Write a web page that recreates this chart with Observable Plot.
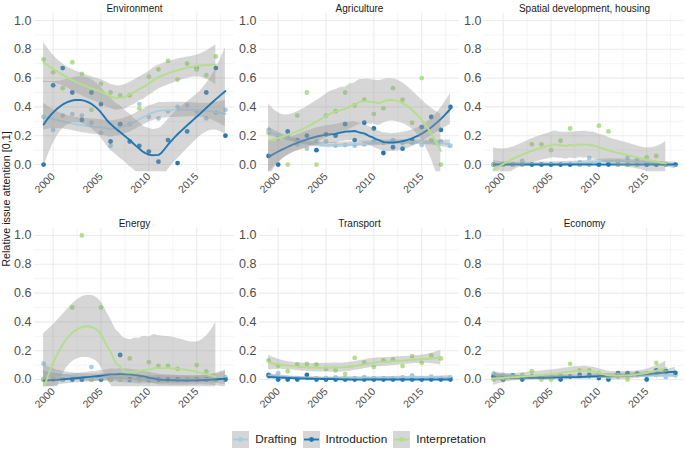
<!DOCTYPE html>
<html><head><meta charset="utf-8">
<script src="https://cdn.jsdelivr.net/npm/d3@7"></script>
<script src="https://cdn.jsdelivr.net/npm/@observablehq/plot@0.6"></script>
<style>
body{margin:0;background:#fff;font-family:"Liberation Sans",Arial,Helvetica,sans-serif;}
#wrap{position:relative;width:685px;height:451px;overflow:hidden;}
#ylab{position:absolute;left:6px;top:199px;transform:translate(-50%,-50%) rotate(-90deg);white-space:nowrap;font-size:10.8px;color:#1a1a1a;}
#legend{position:absolute;left:34px;width:650px;top:429px;height:20px;display:flex;justify-content:center;align-items:center;font-size:11.8px;color:#1a1a1a;}
#legend .item{display:flex;align-items:center;margin:0 3px;}
#legend svg{margin-right:6px;}
</style></head><body>
<div id="wrap"><div id="chart"></div><div id="ylab">Relative issue attention [0,1]</div><div id="legend"></div></div>
<script>
// ---------- data ----------
const panelNames = ["Environment", "Agriculture", "Spatial development, housing", "Energy", "Transport", "Economy"];
const seriesNames = ["Drafting", "Introduction", "Interpretation"];
const seriesColors = ["#a6cee3", "#1f78b4", "#b2df8a"];
const yearsFull = [1999, 2000, 2001, 2002, 2003, 2004, 2005, 2006, 2007, 2008, 2009, 2010, 2011, 2012, 2013, 2014, 2015, 2016, 2017, 2018];
const yearsInterp = [1999, 2000, 2001, 2002, 2003, 2004, 2005, 2006, 2007, 2008, 2009, 2010, 2011, 2012, 2013, 2014, 2015, 2016, 2017];
const xTicks = [2000, 2005, 2010, 2015];
const xMinor = [2002.5, 2007.5, 2012.5, 2017.5];
const yTicks = [0, 0.2, 0.4, 0.6, 0.8, 1.0];
const yMinor = [0.1, 0.3, 0.5, 0.7, 0.9];

const envDrafting = [0.33, 0.24, 0.34, 0.35, 0.34, 0.29, 0.22, 0.13, 0.28, 0.28, 0.42, 0.33, 0.32, 0.37, 0.40, 0.41, 0.37, 0.32, 0.36, 0.38];
const envIntroduction = [0.00, 0.55, 0.67, 0.50, 0.31, 0.50, 0.42, 0.16, 0.28, 0.16, 0.13, 0.09, 0.02, 0.17, 0.01, 0.23, 0.67, 0.50, 0.67, 0.20];
const envInterpretation = [0.73, 0.64, 0.53, 0.71, 0.63, 0.38, 0.56, 0.50, 0.48, 0.48, 0.39, 0.61, 0.66, 0.72, 0.59, 0.70, 0.66, 0.62, 0.75];

const agrDrafting = [0.24, 0.20, 0.20, 0.14, 0.11, 0.16, 0.16, 0.13, 0.135, 0.13, 0.14, 0.16, 0.15, 0.17, 0.15, 0.15, 0.135, 0.17, 0.16, 0.13];
const agrIntroduction = [0.06, 0.00, 0.23, 0.17, 0.20, 0.10, 0.21, 0.20, 0.28, 0.17, 0.29, 0.25, 0.08, 0.12, 0.11, 0.17, 0.26, 0.33, 0.24, 0.40];
const agrInterpretation = [0.22, 0.18, 0.00, 0.34, 0.50, 0.00, 0.34, 0.37, 0.50, 0.41, 0.45, 0.35, 0.39, 0.53, 0.45, 0.29, 0.60, 0.17, 0.00];

const spaDrafting = [0, 0, 0, 0.025, 0, 0, 0, 0, 0, 0.015, 0.046, 0, 0.01, 0.02, 0.046, 0.035, 0, 0, 0, 0];
const spaIntroduction = [0, 0, 0, 0, 0, 0, 0, 0, 0, 0, 0, 0, 0, 0, 0, 0, 0, 0, 0, 0];
const spaInterpretation = [0, 0, 0, 0, 0.14, 0.14, 0.10, 0.165, 0.25, 0, 0, 0.27, 0.23, 0, 0, 0, 0.05, 0.06, 0];

const eneDrafting = [0.11, 0, 0, 0, 0, 0.086, 0, 0, 0, 0, 0, 0, 0, 0, 0, 0, 0, 0, 0, 0.016];
const eneIntroduction = [0, 0, 0, 0, 0, 0, 0, 0, 0.17, 0, 0, 0, 0, 0, 0, 0, 0, 0, 0, 0];
const eneInterpretation = [0, 0, 0, 0.5, 1.0, 0, 0.5, 0, 0, 0.146, 0, 0.12, 0.095, 0.095, 0.074, 0, 0.10, 0.056, 0];

const traDrafting = [0.02, 0.044, 0.01, 0.01, 0.01, 0.01, 0.01, 0.015, 0.01, 0.01, 0.016, 0.01, 0.01, 0.01, 0.015, 0.028, 0.01, 0.02, 0.01, 0.015];
const traIntroduction = [0.032, 0, 0, 0, 0.032, 0, 0, 0, 0, 0, 0, 0, 0, 0, 0, 0, 0, 0, 0, 0];
const traInterpretation = [0.132, 0.097, 0.058, 0.104, 0.109, 0.104, 0.074, 0.063, 0.039, 0.15, 0.118, 0.086, 0.132, 0.139, 0.093, 0.162, 0.116, 0.167, 0.146];

const ecoDrafting = [0.04, 0.03, 0.02, 0.02, 0.02, 0.02, 0.02, 0.02, 0.02, 0.025, 0.02, 0.02, 0.02, 0.02, 0.025, 0.03, 0.03, 0.03, 0.016, 0.028];
const ecoIntroduction = [0.02, 0, 0.028, 0, 0.02, 0.01, 0.01, 0, 0.02, 0.032, 0.032, 0.01, 0, 0.044, 0.044, 0.04, 0, 0.063, 0.06, 0.046];
const ecoInterpretation = [0, 0.01, 0.02, 0.032, 0.058, 0, 0, 0.03, 0.109, 0.063, 0.063, 0.04, 0.02, 0.03, 0, 0.03, 0.04, 0.116, 0.05];

const panelSeries = [
  [envDrafting, envIntroduction, envInterpretation],
  [agrDrafting, agrIntroduction, agrInterpretation],
  [spaDrafting, spaIntroduction, spaInterpretation],
  [eneDrafting, eneIntroduction, eneInterpretation],
  [traDrafting, traIntroduction, traInterpretation],
  [ecoDrafting, ecoIntroduction, ecoInterpretation]
];

// ---------- loess (degree 2, span 0.75) with 95% CI, like geom_smooth ----------
function solve3(A, b) {
  const M = A.map((r, i) => [...r, b[i]]);
  for (let c = 0; c < 3; c++) {
    let p = c;
    for (let r = c + 1; r < 3; r++) if (Math.abs(M[r][c]) > Math.abs(M[p][c])) p = r;
    [M[c], M[p]] = [M[p], M[c]];
    for (let r = 0; r < 3; r++) {
      if (r === c) continue;
      const f = M[r][c] / M[c][c];
      for (let k = c; k < 4; k++) M[r][k] -= f * M[c][k];
    }
  }
  return [M[0][3] / M[0][0], M[1][3] / M[1][1], M[2][3] / M[2][2]];
}
function loessRow(xs, x0, q) {
  const d = xs.map(x => Math.abs(x - x0));
  const h = d.slice().sort((a, b) => a - b)[q - 1] * 1.0001;
  const w = d.map(v => { const u = v / h; return u < 1 ? Math.pow(1 - u * u * u, 3) : 0; });
  const A = [[0, 0, 0], [0, 0, 0], [0, 0, 0]];
  xs.forEach((x, j) => {
    const t = x - x0, b = [1, t, t * t];
    for (let r = 0; r < 3; r++) for (let c = 0; c < 3; c++) A[r][c] += w[j] * b[r] * b[c];
  });
  const v = solve3(A, [1, 0, 0]);
  return xs.map((x, j) => { const t = x - x0; return w[j] * (v[0] + v[1] * t + v[2] * t * t); });
}
function qt975(df) {
  const z = 1.959964, z2 = z * z;
  const g1 = (z2 * z + z) / 4;
  const g2 = (5 * z2 * z2 * z + 16 * z2 * z + 3 * z) / 96;
  const g3 = (3 * Math.pow(z, 7) + 19 * Math.pow(z, 5) + 17 * Math.pow(z, 3) - 15 * z) / 384;
  const g4 = (79 * Math.pow(z, 9) + 776 * Math.pow(z, 7) + 1482 * Math.pow(z, 5) - 1920 * Math.pow(z, 3) - 945 * z) / 92160;
  return z + g1 / df + g2 / df ** 2 + g3 / df ** 3 + g4 / df ** 4;
}
function loessSmooth(xs, ys) {
  const n = xs.length, q = Math.floor(n * 0.75);
  const L = xs.map(x => loessRow(xs, x, q));
  const fitted = L.map(r => d3.sum(r, (l, j) => l * ys[j]));
  const rss = d3.sum(ys, (y, i) => (y - fitted[i]) ** 2);
  const B = L.map((r, i) => r.map((l, j) => (i === j ? 1 : 0) - l));
  const M = B.map((_, i) => B.map((_, j) => { let s = 0; for (let k = 0; k < n; k++) s += B[k][i] * B[k][j]; return s; }));
  let d1 = 0, d2 = 0;
  for (let i = 0; i < n; i++) { d1 += M[i][i]; for (let j = 0; j < n; j++) d2 += M[i][j] * M[j][i]; }
  const s = Math.sqrt(rss / d1), tq = qt975(d1 * d1 / d2);
  const lo = xs[0], hi = xs[n - 1], out = [];
  for (let k = 0; k < 80; k++) {
    const x = lo + (hi - lo) * k / 79;
    const l = loessRow(xs, x, q);
    const f = d3.sum(l, (v, j) => v * ys[j]);
    const se = s * Math.sqrt(d3.sum(l, v => v * v));
    out.push({x, fit: f, lo: f - tq * se, hi: f + tq * se});
  }
  return out;
}

// ---------- build tables ----------
const points = [], smooths = [];
panelNames.forEach((panel, p) => {
  const col = p % 3, row = Math.floor(p / 3);
  seriesNames.forEach((series, s) => {
    const vals = panelSeries[p][s];
    const xs = s === 2 ? yearsInterp : yearsFull;
    vals.forEach((v, i) => points.push({panel, col, row, series, year: xs[i], value: v}));
    loessSmooth(xs, vals).forEach(d => smooths.push({panel, col, row, series, ...d}));
  });
});
const panels = panelNames.map((panel, p) => ({panel, col: p % 3, row: Math.floor(p / 3)}));

const font = "Liberation Sans, Arial, Helvetica, sans-serif";
const marks = [
  Plot.gridY({ticks: yMinor, stroke: "#ebebeb", strokeOpacity: 1, strokeWidth: 0.55, facetAnchor: null}),
  Plot.gridX({ticks: xMinor, stroke: "#ebebeb", strokeOpacity: 1, strokeWidth: 0.55, facetAnchor: null}),
  Plot.gridY({ticks: yTicks, stroke: "#ebebeb", strokeOpacity: 1, strokeWidth: 1.1, facetAnchor: null}),
  Plot.gridX({ticks: xTicks, stroke: "#ebebeb", strokeOpacity: 1, strokeWidth: 1.1, facetAnchor: null}),
  Plot.axisY({ticks: yTicks, tickFormat: d3.format(".1f"), tickSize: 0, tickPadding: 3, fontSize: 12.5, fill: "#4d4d4d", label: null, facetAnchor: null}),
  Plot.axisX({ticks: xTicks, tickFormat: d => String(d), tickSize: 0, tickPadding: 3, tickRotate: -45, fontSize: 10.5, fill: "#4d4d4d", label: null, facetAnchor: null}),
  Plot.dot(points, {x: "year", y: "value", fx: "col", fy: "row", fill: "series", r: 2.4, clip: true}),
];
seriesNames.forEach(series => {
  const sd = smooths.filter(d => d.series === series);
  marks.push(Plot.areaY(sd, {x: "x", y1: "lo", y2: "hi", z: "panel", fx: "col", fy: "row", fill: "#999999", fillOpacity: 0.4, clip: true}));
  marks.push(Plot.line(sd, {x: "x", y: "fit", z: "panel", fx: "col", fy: "row", stroke: "series", strokeWidth: 1.9, clip: true}));
});
marks.push(Plot.text(panels, {fx: "col", fy: "row", text: "panel", frameAnchor: "top", dy: -8.5, fontSize: 10, fill: "#1a1a1a"}));

const chart = Plot.plot({
  width: 685, height: 416,
  marginLeft: 34, marginRight: 1, marginTop: 12.8, marginBottom: 29.8,
  style: {fontFamily: font, background: "#fff"},
  fx: {domain: [0, 1, 2], paddingInner: 0.111, paddingOuter: 0, round: false, axis: null},
  fy: {domain: [0, 1], paddingInner: 0.263, paddingOuter: 0, round: false, axis: null},
  x: {domain: [1998.05, 2018.95]},
  y: {domain: [-0.05, 1.05]},
  color: {domain: seriesNames, range: seriesColors},
  marks
});
document.getElementById("chart").appendChild(chart);

// ---------- legend ----------
const legend = document.getElementById("legend");
seriesNames.forEach((name, i) => {
  const item = document.createElement("div");
  item.className = "item";
  item.innerHTML = `<svg width="17" height="17"><rect width="17" height="17" fill="#d6d6d6"/><line x1="1" x2="16" y1="8.5" y2="8.5" stroke="${seriesColors[i]}" stroke-width="1.9"/><circle cx="8.5" cy="8.5" r="2.4" fill="${seriesColors[i]}"/></svg><span>${name}</span>`;
  legend.appendChild(item);
});
</script>
</body></html>
